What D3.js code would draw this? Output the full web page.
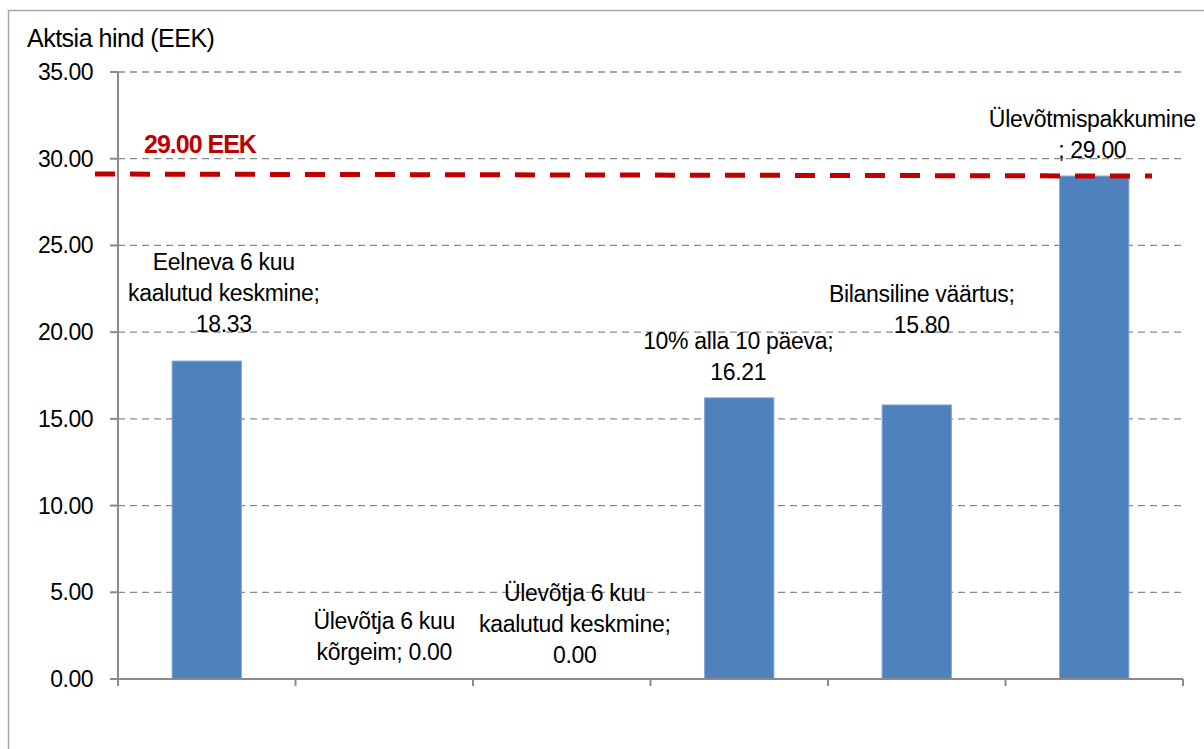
<!DOCTYPE html>
<html lang="et">
<head>
<meta charset="UTF-8">
<title>Aktsia hind</title>
<script src="https://cdn.jsdelivr.net/npm/d3@7"></script>
<style>
    body{ margin:0; background:#fff; }
    svg{ display:block; }
    text{ font-family: "Liberation Sans", Arial, sans-serif; fill:#000; }
    .tickLabel{ font-size:23px; letter-spacing:-0.5px; }
    .dataLabel{ font-size:23px; letter-spacing:-0.3px; }
    .title{ font-size:25px; letter-spacing:-0.5px; }
    .refLabel{ font-size:25px; font-weight:bold; fill:#c00000; letter-spacing:-1px; }
    .grid{ stroke:#8a8a8a; stroke-width:1.3px; stroke-dasharray:7 5; }
    .axisLine{ stroke:#8a8a8a; stroke-width:2px; }
    .bar{ fill:#4f81bd; stroke:#7ea3d3; stroke-width:1px; }
    .refLine{ stroke:#c00000; stroke-width:5px; stroke-dasharray:20 15; fill:none; }
</style>
</head>
<body>
<script>
    // chart data
    const categories = ["c1","c2","c3","c4","c5","c6"];
    const values = [18.33, 0.00, 0.00, 16.21, 15.80, 29.00];
    const labelLines = [
        ["Eelneva 6 kuu","kaalutud keskmine;","18.33"],
        ["Ülevõtja 6 kuu","kõrgeim; 0.00"],
        ["Ülevõtja 6 kuu","kaalutud keskmine;","0.00"],
        ["10% alla 10 päeva;","16.21"],
        ["Bilansiline väärtus;","15.80"],
        ["Ülevõtmispakkumine","; 29.00"]
    ];
    // where the last label line sits (value units) and horizontal shift (px), as moved in the original
    const labelBase = [20.0, 1.1, 0.92, 17.24, 19.95, 30.04];
    const labelShift = [17, 0, 13, -1, 5, -2];
    const yTicks = [0,5,10,15,20,25,30,35];
    const offerPrice = 29.00;
    const titleText = "Aktsia hind (EEK)";
    const refText = "29.00 EEK";

    const width = 1204, height = 749;
    const margin = {top:72, left:118, right:21, bottom:70};

    const svg = d3.select("body").append("svg")
        .attr("width", width).attr("height", height);

    // outer frame
    svg.append("rect")
        .attr("x",8.5).attr("y",10.5)
        .attr("width",1300).attr("height",900)
        .attr("fill","none").attr("stroke","#a6a6a6").attr("stroke-width",1.5);

    const x = d3.scaleBand()
        .domain(categories)
        .range([margin.left, width-margin.right])
        .paddingInner(0.61).paddingOuter(0.305);

    const y = d3.scaleLinear()
        .domain([0,35])
        .range([679, margin.top]);

    // gridlines
    svg.append("g").selectAll("line")
        .data(yTicks.filter(d=>d>0))
        .enter().append("line")
        .attr("class","grid")
        .attr("x1", margin.left).attr("x2", width-margin.right)
        .attr("y1", d=>y(d)).attr("y2", d=>y(d));

    // y axis
    const yAxis = svg.append("g");
    yAxis.append("line").attr("class","axisLine")
        .attr("x1",margin.left).attr("x2",margin.left)
        .attr("y1",y(35)).attr("y2",y(0)+1);
    yAxis.selectAll(".yt").data(yTicks).enter().append("line")
        .attr("class","axisLine")
        .attr("x1",margin.left-8).attr("x2",margin.left)
        .attr("y1",d=>y(d)).attr("y2",d=>y(d));
    yAxis.selectAll(".tickLabel").data(yTicks).enter().append("text")
        .attr("class","tickLabel")
        .attr("x",93).attr("y",d=>y(d)+8)
        .attr("text-anchor","end")
        .text(d=>d3.format(".2f")(d));

    // bars
    svg.append("g").selectAll("rect")
        .data(values)
        .enter().append("rect")
        .attr("class","bar")
        .attr("x",(d,i)=>x(categories[i]))
        .attr("width",x.bandwidth())
        .attr("y",d=>y(d))
        .attr("height",d=>y(0)-y(d));

    // x axis
    const step = x.step();
    const xBounds = d3.range(categories.length+1).map(i=>margin.left + i*step);
    svg.append("line").attr("class","axisLine")
        .attr("x1",margin.left).attr("x2",width-margin.right)
        .attr("y1",y(0)).attr("y2",y(0));
    svg.append("g").selectAll("line").data(xBounds).enter().append("line")
        .attr("class","axisLine")
        .attr("x1",d=>d).attr("x2",d=>d)
        .attr("y1",y(0)).attr("y2",y(0)+7);

    // offer price reference line
    svg.append("line").attr("class","refLine")
        .attr("x1",margin.left-23).attr("x2",width-margin.right-31)
        .attr("y1",y(offerPrice)-2).attr("y2",y(offerPrice));
    svg.append("text").attr("class","refLabel")
        .attr("x",144).attr("y",y(offerPrice)-23)
        .text(refText);

    // data labels
    const lineH = 31;
    const lab = svg.append("g").selectAll("text")
        .data(labelLines)
        .enter().append("text")
        .attr("class","dataLabel")
        .attr("text-anchor","middle")
        .attr("transform",(d,i)=>`translate(${x(categories[i])+x.bandwidth()/2+labelShift[i]},${y(labelBase[i])-(d.length-1)*lineH})`);
    lab.selectAll("tspan")
        .data(d=>d)
        .enter().append("tspan")
        .attr("x",0)
        .attr("y",(d,i)=>i*lineH)
        .text(d=>d);

    // axis title
    svg.append("text").attr("class","title")
        .attr("x",27).attr("y",47)
        .text(titleText);
</script>
</body>
</html>
